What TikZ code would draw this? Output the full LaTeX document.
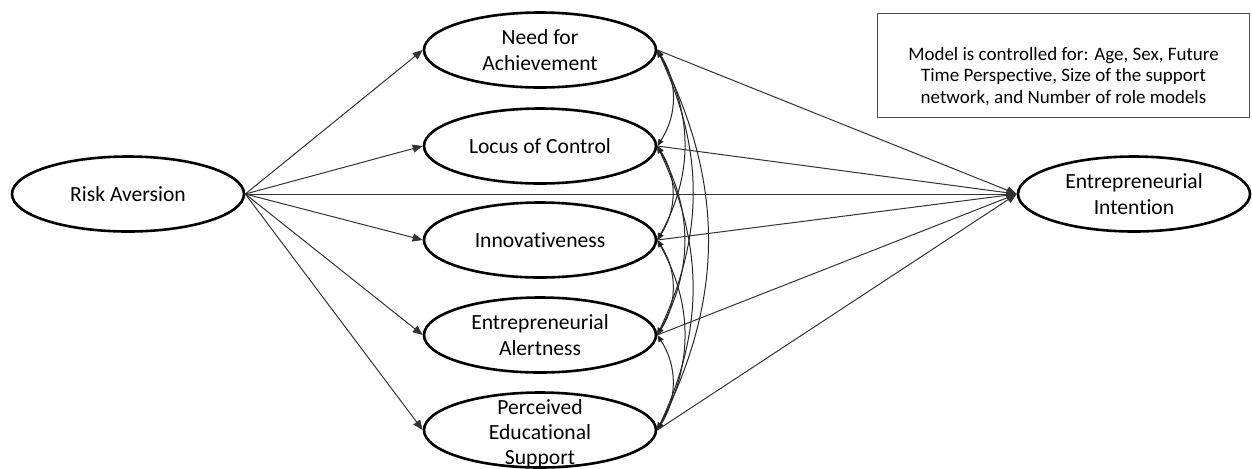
\documentclass[tikz,border=0pt]{standalone}
\usepackage{fontspec}
\setmainfont{Carlito}[Ligatures=NoCommon]
\usetikzlibrary{shapes.geometric,arrows.meta}

\newcommand{\constructfont}{\fontsize{10.8}{12.6}\selectfont}

\begin{document}
\begin{tikzpicture}[x=0.5pt,y=-0.5pt,
    construct/.style={draw,ellipse,line width=1.3pt,minimum width=116pt,minimum height=37.5pt,
        inner sep=0pt,align=center,font=\constructfont},
    effect/.style={draw=black!80,line width=0.5pt,-{Triangle[length=5pt,width=4pt]}},
    covar/.style={draw=black!85,line width=0.5pt,
        {Triangle[length=3.5pt,width=2.8pt]}-{Triangle[length=3.5pt,width=2.8pt]}}]
    \useasboundingbox (0,0) rectangle (1252,468);

    % constructs
    \node[construct] (risk) at (128,194) {Risk Aversion};
    \node[construct] (intent) at (1134,194) {Entrepreneurial\\Intention};
    \node[construct] (nach) at (540,50) {Need for\\Achievement};
    \node[construct] (loc) at (540,146) {Locus of Control};
    \node[construct] (innov) at (540,240) {Innovativeness};
    \node[construct] (alert) at (540,335) {Entrepreneurial\\Alertness};
    \node[construct,label={[align=center,font=\constructfont,yshift=-2pt]center:Perceived\\Educational\\Support}] (edu) at (540,430) {};

    % control variables
    \node[draw=black!70,line width=0.5pt,minimum width=186pt,minimum height=52pt,
        label={[align=center,font=\fontsize{9.5}{10.75}\selectfont,yshift=-5.5pt]center:Model is controlled for: Age, Sex, Future\\Time Perspective, Size of the support\\network, and Number of role models}] (ctrl) at (1063.5,65.5) {};

    % paths
    \foreach \m in {nach,loc,innov,alert,edu} {
        \draw[effect] (risk.east) -- (\m.west);
        \draw[effect] (\m.east) -- (intent.west);
    }
    \draw[effect] (risk.east) -- (intent.west);

    % covariances between the mediators
    \draw[covar] (nach.east) to[bend left=33] (loc.east);
    \draw[covar] (loc.east) to[bend left=33] (innov.east);
    \draw[covar] (innov.east) to[bend left=33] (alert.east);
    \draw[covar] (alert.east) to[bend left=33] (edu.east);
    \draw[covar] (nach.east) to[bend left=29] (innov.east);
    \draw[covar] (loc.east) to[bend left=29] (alert.east);
    \draw[covar] (innov.east) to[bend left=29] (edu.east);
    \draw[covar] (nach.east) to[bend left=25] (alert.east);
    \draw[covar] (loc.east) to[bend left=25] (edu.east);
    \draw[covar] (nach.east) to[bend left=27] (edu.east);
\end{tikzpicture}
\end{document}
